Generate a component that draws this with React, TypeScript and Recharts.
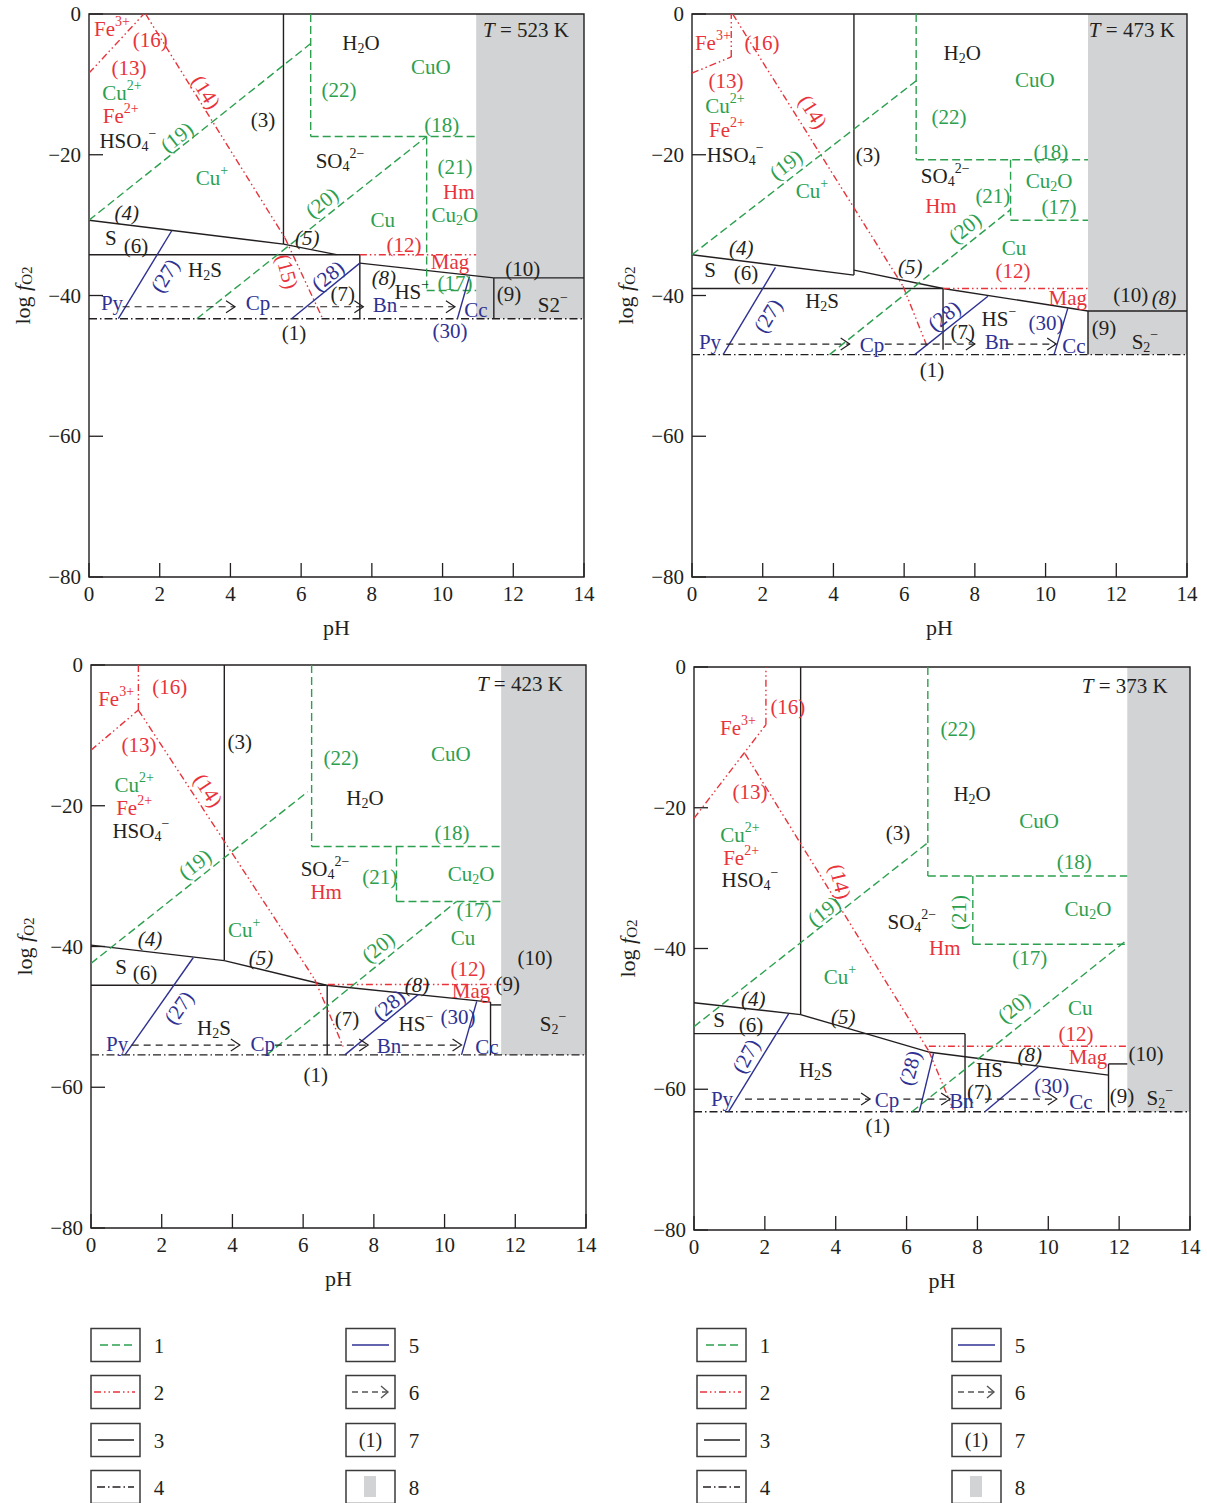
import { ComposedChart, XAxis, YAxis, Line, Scatter, ReferenceArea } from 'recharts';

type Pt = [number, number];
interface Bound {
  n: number;
  pts: Pt[];
}
// text, pH, log fO2, rotation (deg)
type Tag = [string, number, number, number?];

const PH_TICKS = [0, 2, 4, 6, 8, 10, 12, 14];
const LOGF_TICKS = [-80, -60, -40, -20, 0];

// ---- T = 523 K ----
const bounds523: Bound[] = [
  { n: 1, pts: [[0, -43.3], [14, -43.3]] },
  { n: 3, pts: [[5.5, 0], [5.5, -32.7]] },
  { n: 4, pts: [[0, -29.3], [5.5, -32.7]] },
  { n: 5, pts: [[5.5, -32.7], [7.0, -34.2]] },
  { n: 6, pts: [[0, -34.2], [7.66, -34.2]] },
  { n: 7, pts: [[7.66, -34.2], [7.66, -43.3]] },
  { n: 8, pts: [[7.66, -35.4], [11.45, -37.5]] },
  { n: 9, pts: [[11.45, -37.5], [11.45, -43.3]] },
  { n: 10, pts: [[11.45, -37.5], [14, -37.5]] },
  { n: 12, pts: [[7.66, -34.2], [10.95, -34.2]] },
  { n: 13, pts: [[0, -8.4], [1.55, 0]] },
  { n: 14, pts: [[1.6, 0], [5.54, -31.8]] },
  { n: 15, pts: [[5.54, -31.8], [6.6, -43.2]] },
  { n: 17, pts: [[9.55, -39.3], [10.95, -39.3]] },
  { n: 18, pts: [[6.27, -17.4], [10.95, -17.4]] },
  { n: 19, pts: [[0, -29.3], [6.27, -4.2]] },
  { n: 20, pts: [[3.05, -43.3], [9.55, -17.4]] },
  { n: 21, pts: [[9.55, -17.4], [9.55, -39.3]] },
  { n: 22, pts: [[6.27, 0], [6.27, -17.4]] },
  { n: 27, pts: [[0.83, -43.3], [2.34, -30.8]] },
  { n: 28, pts: [[5.73, -43.3], [7.66, -35.4]] },
  { n: 30, pts: [[10.42, -43.3], [10.76, -37.3]] },
];
const arrows523: Pt[][] = [
  [[0.95, -41.6], [4.13, -41.6]],
  [[5.18, -41.6], [7.76, -41.6]],
  [[8.8, -41.6], [10.35, -41.6]],
];
const field523: Pt = [10.95, -43.3];
const tags523: Tag[] = [
  ['Fe^3+', 0.65, -2.1], ['(16)', 1.73, -3.7], ['(13)', 1.13, -7.7], ['Cu^2+', 0.93, -11.2],
  ['Fe^2+', 0.9, -14.5], ['HSO_4^−', 1.1, -18.0], ['(19)', 2.49, -17.5, -38], ['(14)', 3.31, -11.1, 58],
  ['(3)', 4.92, -15.1], ['Cu^+', 3.48, -23.3], ['H_2O', 7.69, -4.1], ['CuO', 9.67, -7.5],
  ['(22)', 7.07, -10.8], ['(18)', 9.98, -15.8], ['SO_4^2−', 7.1, -20.9], ['(21)', 10.35, -21.7],
  ['Hm', 10.46, -25.3], ['(20)', 6.59, -26.8, -38], ['Cu', 8.31, -29.3], ['Cu_2O', 10.35, -28.6],
  ['(4)', 1.07, -28.3], ['(5)', 6.17, -31.8], ['S', 0.62, -31.8], ['(6)', 1.33, -33.0],
  ['(12)', 8.91, -32.8], ['Mag', 10.21, -35.2], ['(10)', 12.27, -36.2], ['H_2S', 3.28, -36.4],
  ['(27)', 2.15, -37.2, -58], ['(15)', 5.6, -36.6, 75], ['(28)', 6.76, -37.2, -39], ['(8)', 8.34, -37.5],
  ['(17)', 10.35, -38.2], ['(7)', 7.18, -39.8], ['HS^−', 9.13, -39.5], ['(9)', 11.88, -39.8],
  ['S2^−', 13.12, -41.3], ['Py', 0.65, -41.1], ['Cp', 4.78, -41.1], ['Bn', 8.37, -41.3],
  ['Cc', 10.94, -42.0], ['(1)', 5.8, -45.3], ['(30)', 10.21, -45.0], ['T = 523 K', 12.36, -2.3],
];

// ---- T = 473 K ----
const bounds473: Bound[] = [
  { n: 1, pts: [[0, -48.4], [14, -48.4]] },
  { n: 3, pts: [[4.58, 0], [4.58, -37.1]] },
  { n: 4, pts: [[0, -34.2], [4.58, -37.1]] },
  { n: 5, pts: [[4.58, -36.4], [7.1, -39.0]] },
  { n: 6, pts: [[0, -39.0], [7.1, -39.0]] },
  { n: 7, pts: [[7.1, -39.0], [7.1, -47.7]] },
  { n: 8, pts: [[7.1, -39.0], [11.2, -42.2]] },
  { n: 9, pts: [[11.2, -42.2], [11.2, -48.4]] },
  { n: 10, pts: [[11.2, -42.2], [14, -42.2]] },
  { n: 12, pts: [[7.1, -39.0], [11.2, -39.0]] },
  { n: 13, pts: [[0, -8.4], [1.11, -6.1]] },
  { n: 16, pts: [[1.11, -6.1], [1.11, 0]] },
  { n: 14, pts: [[1.15, 0], [5.97, -38.7]] },
  { n: 15, pts: [[5.97, -38.7], [6.67, -47.5]] },
  { n: 17, pts: [[9.01, -29.3], [11.2, -29.3]] },
  { n: 18, pts: [[6.34, -20.7], [11.2, -20.7]] },
  { n: 19, pts: [[0, -34.2], [6.34, -9.5]] },
  { n: 20, pts: [[3.89, -48.4], [9.01, -27.8]] },
  { n: 21, pts: [[9.01, -20.7], [9.01, -29.3]] },
  { n: 22, pts: [[6.34, 0], [6.34, -20.7]] },
  { n: 27, pts: [[0.88, -48.4], [2.36, -36.0]] },
  { n: 28, pts: [[6.3, -48.4], [8.37, -40.1]] },
  { n: 30, pts: [[10.24, -48.4], [10.63, -41.8]] },
];
const arrows473: Pt[][] = [
  [[0.97, -46.9], [4.46, -46.9]],
  [[5.45, -46.9], [8.0, -46.9]],
  [[8.89, -46.9], [10.3, -46.9]],
];
const field473: Pt = [11.2, -48.4];
const tags473: Tag[] = [
  ['Fe^3+', 0.59, -4.1], ['(16)', 1.98, -4.1], ['(13)', 0.96, -9.5], ['Cu^2+', 0.93, -13.1],
  ['Fe^2+', 0.99, -16.5], ['HSO_4^−', 1.22, -20.0], ['(14)', 3.42, -13.9, 58], ['(19)', 2.66, -21.4, -38],
  ['Cu^+', 3.39, -25.1], ['(3)', 4.98, -20.0], ['H_2O', 7.64, -5.5], ['CuO', 9.7, -9.4],
  ['(22)', 7.27, -14.6], ['(18)', 10.15, -19.6], ['SO_4^2−', 7.16, -23.0], ['Cu_2O', 10.1, -23.7],
  ['Hm', 7.04, -27.3], ['(21)', 8.51, -25.9], ['(17)', 10.38, -27.4], ['(20)', 7.72, -30.4, -39],
  ['Cu', 9.11, -33.2], ['(12)', 9.08, -36.5], ['(4)', 1.39, -33.2], ['(5)', 6.17, -35.9],
  ['S', 0.51, -36.4], ['(6)', 1.53, -36.8], ['H_2S', 3.68, -40.8], ['Mag', 10.63, -40.3],
  ['(10)', 12.41, -39.9], ['(8)', 13.35, -40.3], ['(27)', 2.15, -42.9, -59], ['(28)', 7.13, -42.9, -39],
  ['HS^−', 8.68, -43.3], ['(30)', 10.01, -43.9], ['(9)', 11.65, -44.6], ['S_2^−', 12.81, -46.6],
  ['(7)', 7.66, -45.2], ['Py', 0.51, -46.6], ['Cp', 5.09, -47.0], ['Bn', 8.63, -46.6],
  ['Cc', 10.8, -47.2], ['(1)', 6.79, -50.6], ['T = 473 K', 12.44, -2.3],
];

// ---- T = 423 K ----
const bounds423: Bound[] = [
  { n: 1, pts: [[0, -55.4], [14, -55.4]] },
  { n: 3, pts: [[3.77, 0], [3.77, -42.0]] },
  { n: 4, pts: [[0, -39.8], [3.77, -42.0]] },
  { n: 5, pts: [[3.77, -42.0], [6.66, -45.5]] },
  { n: 6, pts: [[0, -45.5], [6.66, -45.5]] },
  { n: 7, pts: [[6.68, -45.5], [6.68, -55.4]] },
  { n: 8, pts: [[6.66, -45.5], [11.3, -47.9]] },
  { n: 9, pts: [[11.3, -47.9], [11.3, -55.4]] },
  { n: 10, pts: [[11.3, -48.3], [11.6, -48.3]] },
  { n: 12, pts: [[6.7, -45.4], [11.6, -45.4]] },
  { n: 13, pts: [[0, -12.1], [1.34, -6.4]] },
  { n: 16, pts: [[1.34, -6.4], [1.34, 0]] },
  { n: 14, pts: [[1.34, -6.4], [6.33, -44.7]] },
  { n: 15, pts: [[6.33, -44.7], [7.13, -54.2]] },
  { n: 17, pts: [[8.64, -33.6], [11.6, -33.6]] },
  { n: 18, pts: [[6.24, -25.8], [11.6, -25.8]] },
  { n: 19, pts: [[0, -42.4], [6.13, -18.0]] },
  { n: 20, pts: [[4.97, -55.4], [10.34, -33.6]] },
  { n: 21, pts: [[8.64, -25.8], [8.64, -33.6]] },
  { n: 22, pts: [[6.24, 0], [6.24, -25.8]] },
  { n: 27, pts: [[0.96, -55.4], [2.89, -41.6]] },
  { n: 28, pts: [[7.18, -55.4], [9.26, -46.8]] },
  { n: 30, pts: [[10.48, -55.4], [10.91, -47.8]] },
];
const arrows423: Pt[][] = [
  [[1.15, -54.0], [4.21, -54.0]],
  [[5.2, -54.0], [7.84, -54.0]],
  [[8.79, -54.0], [10.48, -54.0]],
];
const field423: Pt = [11.6, -55.4];
const tags423: Tag[] = [
  ['Fe^3+', 0.71, -4.8], ['(16)', 2.23, -3.1], ['(13)', 1.36, -11.4], ['(3)', 4.21, -10.9],
  ['(14)', 3.31, -17.8, 57], ['Cu^2+', 1.22, -17.0], ['Fe^2+', 1.22, -20.3], ['HSO_4^−', 1.41, -23.6],
  ['(22)', 7.07, -13.2], ['CuO', 10.18, -12.6], ['H_2O', 7.75, -18.9], ['(18)', 10.21, -23.9],
  ['(19)', 2.94, -28.3, -38], ['SO_4^2−', 6.62, -29.0], ['Hm', 6.65, -32.2], ['(21)', 8.17, -30.1],
  ['Cu_2O', 10.75, -29.7], ['(17)', 10.83, -34.8], ['Cu^+', 4.33, -37.6], ['Cu', 10.52, -38.8],
  ['(20)', 8.12, -40.1, -39], ['(4)', 1.67, -38.9], ['(5)', 4.81, -41.6], ['(10)', 12.56, -41.6],
  ['(12)', 10.66, -43.2], ['S', 0.85, -42.9], ['(6)', 1.53, -43.8], ['(8)', 9.22, -45.5],
  ['Mag', 10.75, -46.3], ['(9)', 11.79, -45.3], ['(27)', 2.49, -48.7, -55], ['(7)', 7.24, -50.3],
  ['(28)', 8.43, -48.3, -40], ['H_2S', 3.48, -51.6], ['HS^−', 9.19, -51.0], ['(30)', 10.38, -50.0],
  ['S_2^−', 13.07, -51.0], ['Py', 0.74, -53.8], ['Cp', 4.86, -53.8], ['Bn', 8.43, -54.1],
  ['Cc', 11.2, -54.3], ['(1)', 6.36, -58.2], ['T = 423 K', 12.13, -2.7],
];

// ---- T = 373 K ----
const bounds373: Bound[] = [
  { n: 1, pts: [[0, -63.2], [14, -63.2]] },
  { n: 3, pts: [[3.01, 0], [3.01, -49.4]] },
  { n: 4, pts: [[0, -47.7], [3.01, -49.4]] },
  { n: 5, pts: [[3.01, -49.4], [4.78, -52.0], [6.61, -54.7]] },
  { n: 6, pts: [[0, -52.1], [7.65, -52.1]] },
  { n: 7, pts: [[7.65, -52.1], [7.65, -63.2]] },
  { n: 8, pts: [[6.61, -54.7], [11.7, -58.0]] },
  { n: 9, pts: [[11.7, -56.4], [11.7, -63.2]] },
  { n: 10, pts: [[11.7, -56.4], [12.23, -56.4]] },
  { n: 12, pts: [[6.63, -53.9], [12.23, -53.9]] },
  { n: 13, pts: [[0, -21.5], [2.03, -8.2]] },
  { n: 16, pts: [[2.03, -8.2], [2.03, 0]] },
  { n: 14, pts: [[1.44, -12.3], [6.63, -54.6]] },
  { n: 15, pts: [[6.63, -54.6], [7.32, -62.9]] },
  { n: 17, pts: [[7.87, -39.4], [12.23, -39.4]] },
  { n: 18, pts: [[6.6, -29.7], [12.23, -29.7]] },
  { n: 19, pts: [[0, -51.1], [6.59, -25.0]] },
  { n: 20, pts: [[6.15, -63.2], [12.17, -39.0]] },
  { n: 21, pts: [[7.87, -29.7], [7.87, -39.4]] },
  { n: 22, pts: [[6.6, 0], [6.6, -29.7]] },
  { n: 27, pts: [[0.97, -63.2], [2.67, -49.3]] },
  { n: 28, pts: [[6.36, -63.2], [6.76, -54.9]] },
  { n: 30, pts: [[8.21, -63.2], [9.72, -56.8]] },
];
const arrows373: Pt[][] = [
  [[1.44, -61.4], [4.97, -61.4]],
  [[5.91, -61.4], [7.23, -61.4]],
  [[8.21, -61.4], [10.24, -61.4]],
];
const field373: Pt = [12.23, -63.2];
const tags373: Tag[] = [
  ['(16)', 2.65, -5.7], ['Fe^3+', 1.24, -8.7], ['(13)', 1.58, -17.8], ['(22)', 7.45, -8.8],
  ['H_2O', 7.85, -18.0], ['CuO', 9.74, -21.9], ['(3)', 5.76, -23.6], ['Cu^2+', 1.3, -23.9],
  ['Fe^2+', 1.33, -27.1], ['HSO_4^−', 1.58, -30.3], ['(18)', 10.73, -27.7], ['(14)', 4.12, -30.5, 76],
  ['(19)', 3.67, -34.7, -38], ['SO_4^2−', 6.15, -36.2], ['(21)', 7.48, -34.9, -90], ['Cu_2O', 11.12, -34.4],
  ['Hm', 7.08, -39.9], ['(17)', 9.48, -41.3], ['Cu^+', 4.12, -44.0], ['Cu', 10.9, -48.4],
  ['(20)', 9.03, -48.4, -39], ['(4)', 1.67, -47.2], ['(5)', 4.21, -49.7], ['S', 0.71, -50.1],
  ['(6)', 1.61, -50.9], ['(12)', 10.78, -52.1], ['(27)', 1.47, -55.3, -62], ['(28)', 6.1, -57.0, -75],
  ['(8)', 9.48, -55.1], ['Mag', 11.12, -55.4], ['(10)', 12.76, -55.0], ['H_2S', 3.44, -57.2],
  ['HS^−', 8.45, -57.2], ['(7)', 8.05, -60.4], ['(30)', 10.1, -59.5], ['(9)', 12.08, -60.9],
  ['S_2^−', 13.15, -61.2], ['Py', 0.79, -61.4], ['Cp', 5.45, -61.5], ['Bn', 7.55, -61.7],
  ['Cc', 10.92, -61.8], ['(1)', 5.19, -65.2], ['T = 373 K', 12.16, -2.7],
];

const LEGEND_ITEMS = [1, 2, 3, 4, 5, 6, 7, 8];

const INK = '#231f20';
const GREEN = '#2ca04f';
const RED = '#e8333b';
const BLUE = '#2e3192';
const SHADE = '#d1d3d4';
const FONT = '"Liberation Serif", "DejaVu Serif", serif';
const TAG_SIZE = 21;
const SMALL_SIZE = 14;
const TICK_SIZE = 21;

const CU_SPECIES = ['Cu^2+', 'Cu^+', 'CuO', 'Cu_2O', 'Cu'];
const FE_SPECIES = ['Fe^3+', 'Fe^2+', 'Hm', 'Mag'];
const MINERALS = ['Py', 'Cp', 'Bn', 'Cc'];
const ITALIC = ['(4)', '(5)', '(8)'];

// equation numbers: 12-16 iron, 17-22 copper, 27+ Cu-Fe sulfides, rest sulfur/water
function groupOf(n: number) {
  if (n >= 17 && n <= 22) return 'cu';
  if (n >= 12 && n <= 16) return 'fe';
  if (n >= 27) return 'min';
  return 's';
}

function strokeFor(n: number): { stroke: string; dash?: string } {
  if (n === 1) return { stroke: INK, dash: '8 3 1.5 3' };
  const g = groupOf(n);
  if (g === 'cu') return { stroke: GREEN, dash: '8 4' };
  if (g === 'fe') return { stroke: RED, dash: '7 3 1.5 3 1.5 3' };
  if (g === 'min') return { stroke: BLUE };
  return { stroke: INK };
}

function tagColour(t: string) {
  const m = t.match(/^\((\d+)\)$/);
  if (m) {
    const g = groupOf(Number(m[1]));
    return g === 'cu' ? GREEN : g === 'fe' ? RED : g === 'min' ? BLUE : INK;
  }
  if (CU_SPECIES.includes(t)) return GREEN;
  if (FE_SPECIES.includes(t)) return RED;
  if (MINERALS.includes(t)) return BLUE;
  return INK;
}

// "SO_4^2−" -> plain / subscript / superscript runs
function splitFormula(t: string) {
  const out: { s: string; k: number }[] = [];
  let i = 0;
  while (i < t.length) {
    const ch = t[i];
    if (ch === '_' || ch === '^') {
      let j = i + 1;
      while (j < t.length && /[0-9+−]/.test(t[j])) j++;
      out.push({ s: t.slice(i + 1, j), k: ch === '_' ? 5 : -8 });
      i = j;
    } else {
      let j = i;
      while (j < t.length && t[j] !== '_' && t[j] !== '^') j++;
      out.push({ s: t.slice(i, j), k: 0 });
      i = j;
    }
  }
  return out;
}

function TagShape(props: any) {
  const { cx, cy, payload } = props;
  if (cx == null || cy == null || !payload) return <g />;
  const t: string = payload.t;
  const a: number | undefined = payload.a;
  const rot = a ? `rotate(${a} ${cx} ${cy})` : undefined;

  if (t.startsWith('T = ')) {
    return (
      <text x={cx} y={cy} textAnchor="middle" dominantBaseline="central" fontSize={TAG_SIZE} fontFamily={FONT} fill={INK}>
        <tspan fontStyle="italic">T</tspan>
        {t.slice(1)}
      </text>
    );
  }

  let level = 0;
  const runs = splitFormula(t).map((r, i) => {
    const dy = r.k - level;
    level = r.k;
    return (
      <tspan key={i} dy={dy} fontSize={r.k === 0 ? TAG_SIZE : SMALL_SIZE}>
        {r.s}
      </tspan>
    );
  });

  return (
    <text
      x={cx}
      y={cy}
      textAnchor="middle"
      dominantBaseline="central"
      fontFamily={FONT}
      fontSize={TAG_SIZE}
      fontStyle={ITALIC.includes(t) ? 'italic' : 'normal'}
      fill={tagColour(t)}
      transform={rot}
    >
      {runs}
    </text>
  );
}

const PhTick = ({ x, y, payload }: any) => (
  <g>
    <line x1={x} y1={y} x2={x} y2={y - 14} stroke={INK} strokeWidth={1.3} />
    <text x={x} y={y + 17} textAnchor="middle" dominantBaseline="central" fontSize={TICK_SIZE} fontFamily={FONT} fill={INK}>
      {payload.value}
    </text>
  </g>
);

const LogTick = ({ x, y, payload }: any) => (
  <g>
    <line x1={x} y1={y} x2={x + 14} y2={y} stroke={INK} strokeWidth={1.3} />
    <text x={x - 8} y={y} textAnchor="end" dominantBaseline="central" fontSize={TICK_SIZE} fontFamily={FONT} fill={INK}>
      {payload.value < 0 ? `−${-payload.value}` : payload.value}
    </text>
  </g>
);

const PhTitle = ({ viewBox }: any) => {
  if (!viewBox) return null;
  return (
    <text
      x={viewBox.x + viewBox.width / 2}
      y={viewBox.y + 50}
      textAnchor="middle"
      dominantBaseline="central"
      fontSize={22}
      fontFamily={FONT}
      fill={INK}
    >
      pH
    </text>
  );
};

const LogTitle = ({ viewBox }: any) => {
  if (!viewBox) return null;
  const x = viewBox.x + viewBox.width - 67;
  const y = viewBox.y + viewBox.height / 2;
  return (
    <text
      x={x}
      y={y}
      transform={`rotate(-90 ${x} ${y})`}
      textAnchor="middle"
      dominantBaseline="central"
      fontSize={22}
      fontFamily={FONT}
      fill={INK}
    >
      log <tspan fontStyle="italic">f</tspan>
      <tspan fontSize={15} dy={5}>O2</tspan>
    </text>
  );
};

const arrowTip = (p: any) => {
  if (p.index !== 1 || p.cx == null) return <g key={`d${p.index}`} />;
  return (
    <path
      key={`d${p.index}`}
      d={`M${p.cx - 9},${p.cy - 6} L${p.cx},${p.cy} L${p.cx - 9},${p.cy + 6}`}
      fill="none"
      stroke={INK}
      strokeWidth={1.2}
    />
  );
};

interface PanelProps {
  left: number;
  top: number;
  width: number;
  height: number;
  bounds: Bound[];
  arrows: Pt[][];
  tags: Tag[];
  field: Pt;
}

function Panel({ left, top, width, height, bounds, arrows, tags, field }: PanelProps) {
  const padL = 90;
  const padT = 24;
  const padR = 20;
  const padB = 70;
  const tagData = tags.map(([t, x, y, a]) => ({ x, y, t, a }));

  return (
    <div style={{ position: 'absolute', left: left - padL, top: top - padT }}>
      <ComposedChart
        width={width + padL + padR}
        height={height + padT + padB}
        margin={{ top: padT, right: padR, left: 0, bottom: 0 }}
      >
        <XAxis
          type="number"
          dataKey="x"
          domain={[0, 14]}
          ticks={PH_TICKS}
          interval={0}
          allowDataOverflow
          axisLine={false}
          tickLine={false}
          tickSize={0}
          tickMargin={0}
          height={padB}
          tick={<PhTick />}
          label={{ content: PhTitle }}
        />
        <YAxis
          type="number"
          dataKey="y"
          domain={[-80, 0]}
          ticks={LOGF_TICKS}
          interval={0}
          allowDataOverflow
          axisLine={false}
          tickLine={false}
          tickSize={0}
          tickMargin={0}
          width={padL}
          tick={<LogTick />}
          label={{ content: LogTitle }}
        />
        <ReferenceArea x1={field[0]} x2={14} y1={field[1]} y2={0} fill={SHADE} fillOpacity={1} stroke="none" />
        {bounds.map((b, i) => {
          const s = strokeFor(b.n);
          return (
            <Line
              key={`b${i}`}
              data={b.pts.map(([x, y]) => ({ x, y }))}
              dataKey="y"
              type="linear"
              stroke={s.stroke}
              strokeDasharray={s.dash}
              strokeWidth={1.4}
              dot={false}
              activeDot={false}
              isAnimationActive={false}
            />
          );
        })}
        {arrows.map((pts, i) => (
          <Line
            key={`a${i}`}
            data={pts.map(([x, y]) => ({ x, y }))}
            dataKey="y"
            type="linear"
            stroke={INK}
            strokeDasharray="7 5"
            strokeWidth={1.2}
            dot={arrowTip}
            activeDot={false}
            isAnimationActive={false}
          />
        ))}
        <Scatter data={tagData} dataKey="y" shape={TagShape} isAnimationActive={false} />
        <ReferenceArea x1={0} x2={14} y1={-80} y2={0} fill="none" fillOpacity={0} stroke={INK} strokeWidth={1.4} />
      </ComposedChart>
    </div>
  );
}

function LegendSample({ k, x, y }: { k: number; x: number; y: number }) {
  const seg = (n: number, x1: number, x2: number) => {
    const s = strokeFor(n);
    return <line x1={x + x1} x2={x + x2} y1={y} y2={y} stroke={s.stroke} strokeDasharray={s.dash} strokeWidth={1.5} />;
  };
  switch (k) {
    case 1:
      return seg(19, 9, 41);
    case 2:
      return seg(14, 3, 44);
    case 3:
      return seg(3, 7, 43);
    case 4:
      return seg(1, 6, 43);
    case 5:
      return seg(27, 6, 43);
    case 6:
      return (
        <g>
          <line x1={x + 6} x2={x + 42} y1={y} y2={y} stroke="#555" strokeDasharray="6 4" strokeWidth={1.5} />
          <path d={`M${x + 35},${y - 6} L${x + 42},${y} L${x + 35},${y + 6}`} fill="none" stroke="#555" strokeWidth={1.4} />
        </g>
      );
    case 7:
      return (
        <text x={x + 24.5} y={y} textAnchor="middle" dominantBaseline="central" fontSize={20} fontFamily={FONT} fill={INK}>
          (1)
        </text>
      );
    default:
      return <rect x={x + 18} y={y - 11} width={12} height={21} fill={SHADE} />;
  }
}

function Legend({ left }: { left: number }) {
  const colX = [left, left + 255];
  const rowY = [1345, 1392, 1440, 1487];
  return (
    <g>
      {LEGEND_ITEMS.map((k, i) => {
        const bx = colX[Math.floor(i / 4)];
        const cy = rowY[i % 4];
        return (
          <g key={k}>
            <rect x={bx} y={cy - 16.5} width={49} height={33} fill="none" stroke="#3a3a3a" strokeWidth={1.5} />
            <LegendSample k={k} x={bx} y={cy} />
            <text x={bx + 68} y={cy + 1} textAnchor="middle" dominantBaseline="central" fontSize={21} fontFamily={FONT} fill={INK}>
              {k}
            </text>
          </g>
        );
      })}
    </g>
  );
}

export default function App() {
  return (
    <div style={{ position: 'absolute', left: 0, top: 0, width: 1207, height: 1503, background: '#fff', overflow: 'hidden' }}>
      <Panel left={89} top={14} width={495} height={563} bounds={bounds523} arrows={arrows523} tags={tags523} field={field523} />
      <Panel left={692} top={14} width={495} height={563} bounds={bounds473} arrows={arrows473} tags={tags473} field={field473} />
      <Panel left={91} top={665} width={495} height={563} bounds={bounds423} arrows={arrows423} tags={tags423} field={field423} />
      <Panel left={694} top={667} width={496} height={563} bounds={bounds373} arrows={arrows373} tags={tags373} field={field373} />
      <svg width={1207} height={1503} style={{ position: 'absolute', left: 0, top: 0, pointerEvents: 'none' }}>
        <Legend left={91} />
        <Legend left={697} />
      </svg>
    </div>
  );
}
